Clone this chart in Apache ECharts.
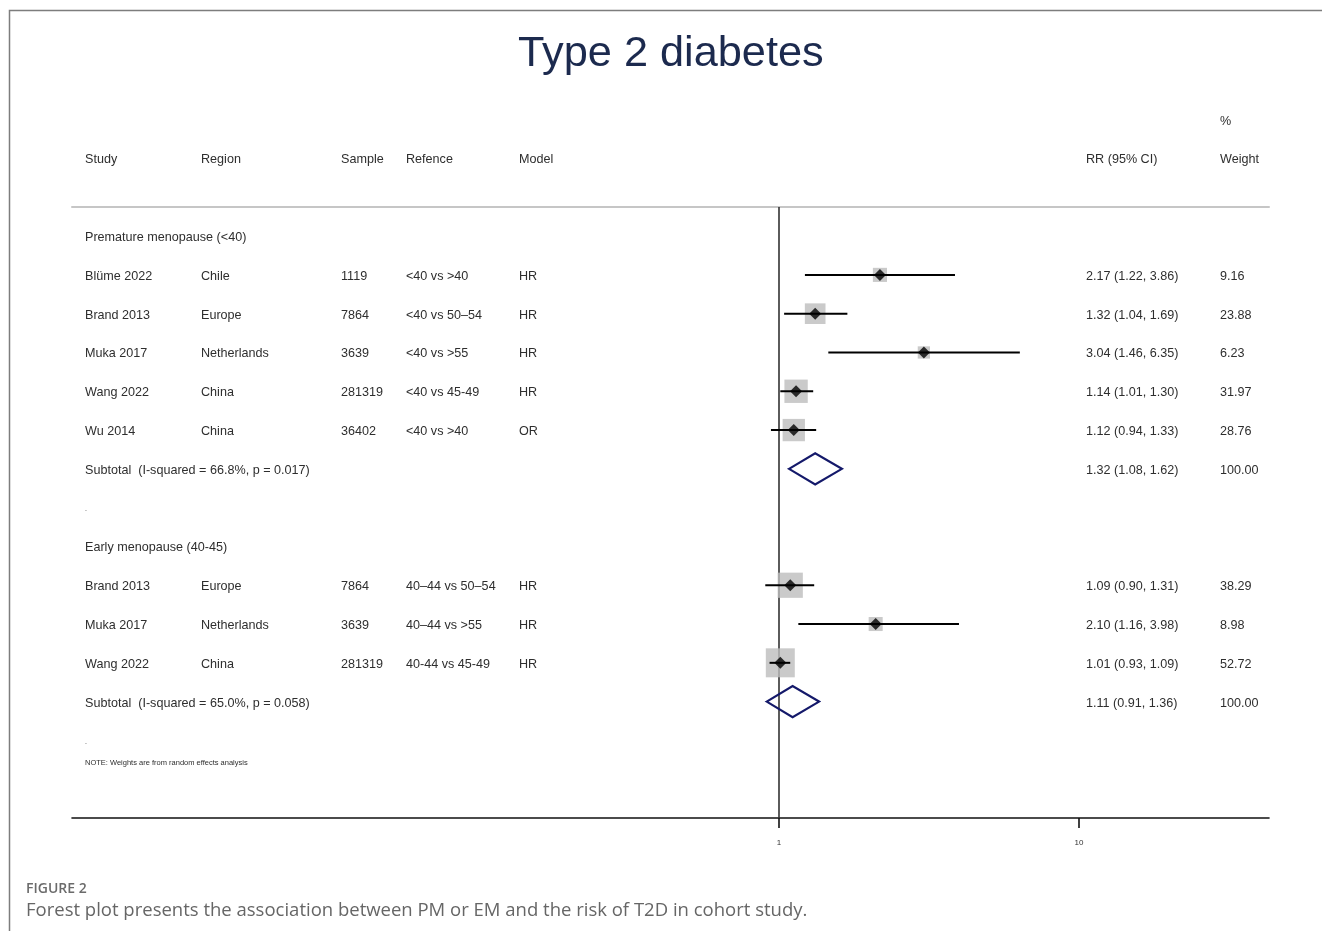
<!DOCTYPE html>
<html>
<head>
<meta charset="utf-8">
<title>Type 2 diabetes</title>
<script src="https://cdn.jsdelivr.net/npm/echarts@6/dist/echarts.min.js"></script>
<style>
  html, body { margin: 0; padding: 0; background: #ffffff; }
  #chart { width: 1322px; height: 931px; }
</style>
</head>
<body>
<div id="chart"></div>
<script>
// ---- Study-level data ----
const studies    = ['Blüme 2022', 'Brand 2013', 'Muka 2017', 'Wang 2022', 'Wu 2014', 'Brand 2013', 'Muka 2017', 'Wang 2022'];
const regions    = ['Chile', 'Europe', 'Netherlands', 'China', 'China', 'Europe', 'Netherlands', 'China'];
const samples    = ['1119', '7864', '3639', '281319', '36402', '7864', '3639', '281319'];
const references = ['<40 vs >40', '<40 vs 50–54', '<40 vs >55', '<40 vs 45-49', '<40 vs >40', '40–44 vs 50–54', '40–44 vs >55', '40-44 vs 45-49'];
const models     = ['HR', 'HR', 'HR', 'HR', 'OR', 'HR', 'HR', 'HR'];
const rr         = [2.17, 1.32, 3.04, 1.14, 1.12, 1.09, 2.10, 1.01];
const ciLow      = [1.22, 1.04, 1.46, 1.01, 0.94, 0.90, 1.16, 0.93];
const ciHigh     = [3.86, 1.69, 6.35, 1.30, 1.33, 1.31, 3.98, 1.09];
const weights    = [9.16, 23.88, 6.23, 31.97, 28.76, 38.29, 8.98, 52.72];
const studyRows  = [1, 2, 3, 4, 5, 9, 10, 11];

// ---- Subgroups and pooled estimates ----
const groupNames     = ['Premature menopause (<40)', 'Early menopause (40-45)'];
const groupRows      = [0, 8];
const subtotalLabels = ['Subtotal  (I-squared = 66.8%, p = 0.017)', 'Subtotal  (I-squared = 65.0%, p = 0.058)'];
const subtotalRR     = [1.32, 1.11];
const subtotalLow    = [1.08, 0.91];
const subtotalHigh   = [1.62, 1.36];
const subtotalWeight = [100.00, 100.00];
const subtotalRows   = [6, 12];
const spacerRows     = [7, 13];
const noteText       = 'NOTE: Weights are from random effects analysis';
const noteRow        = 13.55;

// ---- Header and axis ----
const headers     = ['Study', 'Region', 'Sample', 'Refence', 'Model', 'RR (95% CI)', 'Weight'];
const headerRow   = -2;
const percentRow  = -3;
const axisTicks   = [1, 10];

// ---- Layout ----
const FONT = '"Liberation Sans", Arial, Helvetica, sans-serif';
const TEXT_COLOR = '#2e2e2e';
const BODY_SIZE = 12.6;
const GRID = { left: 72, right: 53, top: 207, bottom: 113 };
const X_MIN = -2.3567, X_MAX = 1.6333;          // log10(RR) extent of the plot
const COL = { study: 85, region: 201, sample: 341, ref: 406, model: 519, rr: 1086, weight: 1220 };

const fmt2 = v => v.toFixed(2);
const ciText = (e, l, h) => `${fmt2(e)} (${fmt2(l)}, ${fmt2(h)})`;

// Text cells of the table: [x, row, text, fontSize]
const cells = [];
const headerCols = [COL.study, COL.region, COL.sample, COL.ref, COL.model, COL.rr, COL.weight];
headers.forEach((h, i) => cells.push([headerCols[i], headerRow, h, BODY_SIZE]));
cells.push([COL.weight, percentRow, '%', BODY_SIZE]);
groupNames.forEach((g, i) => cells.push([COL.study, groupRows[i], g, BODY_SIZE]));
studies.forEach((s, i) => {
  const r = studyRows[i];
  cells.push([COL.study, r, s, BODY_SIZE]);
  cells.push([COL.region, r, regions[i], BODY_SIZE]);
  cells.push([COL.sample, r, samples[i], BODY_SIZE]);
  cells.push([COL.ref, r, references[i], BODY_SIZE]);
  cells.push([COL.model, r, models[i], BODY_SIZE]);
  cells.push([COL.rr, r, ciText(rr[i], ciLow[i], ciHigh[i]), BODY_SIZE]);
  cells.push([COL.weight, r, fmt2(weights[i]), BODY_SIZE]);
});
subtotalLabels.forEach((s, i) => {
  const r = subtotalRows[i];
  cells.push([COL.study, r, s, BODY_SIZE]);
  cells.push([COL.rr, r, ciText(subtotalRR[i], subtotalLow[i], subtotalHigh[i]), BODY_SIZE]);
  cells.push([COL.weight, r, fmt2(subtotalWeight[i]), BODY_SIZE]);
});
spacerRows.forEach(r => cells.push([COL.study, r, '.', 7]));
cells.push([COL.study, noteRow, noteText, 7.5]);

const chart = echarts.init(document.getElementById('chart'), null, { renderer: 'canvas' });

const option = {
  backgroundColor: '#ffffff',
  animation: false,
  title: {
    text: 'Type 2 diabetes',
    left: 513,
    top: 28,
    textStyle: { fontFamily: FONT, fontSize: 43.3, fontWeight: 'normal', color: '#1c2a4e' }
  },
  grid: GRID,
  xAxis: [
    {
      // log10(RR) scale; labels show RR
      type: 'value', min: X_MIN, max: X_MAX, position: 'bottom',
      axisLine: { show: true, onZero: false, lineStyle: { color: '#111', width: 1.6 } },
      axisTick: { show: true, customValues: axisTicks.map(Math.log10), length: 10, lineStyle: { color: '#111', width: 1.6 } },
      axisLabel: {
        show: true, customValues: axisTicks.map(Math.log10), margin: 21,
        formatter: v => String(Math.round(Math.pow(10, v))),
        fontFamily: FONT, fontSize: 8, color: '#333'
      },
      splitLine: { show: false }
    },
    {
      type: 'value', min: X_MIN, max: X_MAX, position: 'top',
      axisLine: { show: true, onZero: false, lineStyle: { color: '#c6c6c6', width: 2 } },
      axisTick: { show: false }, axisLabel: { show: false }, splitLine: { show: false }
    },
    {
      // page-x axis for table columns
      type: 'value', min: GRID.left, max: 1322 - GRID.right, show: false
    }
  ],
  yAxis: {
    type: 'value', min: -0.75, max: 15, inverse: true, show: false
  },
  series: [
    {
      name: 'table',
      type: 'custom',
      xAxisIndex: 2,
      silent: true,
      z: 5,
      data: cells.map(c => [c[0], c[1]]),
      renderItem: (params, api) => {
        const c = cells[params.dataIndex];
        const p = api.coord([c[0], c[1]]);
        return {
          type: 'text',
          x: p[0], y: p[1] + 1.5,
          style: {
            text: c[2], fill: TEXT_COLOR,
            font: `${c[3]}px ${FONT}`,
            align: 'left', verticalAlign: 'middle'
          }
        };
      }
    },
    {
      name: 'weight box',
      type: 'scatter',
      xAxisIndex: 0,
      symbol: 'rect',
      z: 2,
      silent: true,
      symbolSize: v => 3.5 + 3.51 * Math.sqrt(v[2]),
      itemStyle: { color: '#bdbdbd' },
      data: rr.map((v, i) => [Math.log10(v), studyRows[i], weights[i]])
    },
    {
      name: 'confidence interval',
      type: 'custom',
      xAxisIndex: 0,
      z: 3,
      silent: true,
      data: rr.map((v, i) => [Math.log10(ciLow[i]), Math.log10(ciHigh[i]), studyRows[i]]),
      renderItem: (params, api) => {
        const a = api.coord([api.value(0), api.value(2)]);
        const b = api.coord([api.value(1), api.value(2)]);
        return {
          type: 'line',
          shape: { x1: a[0], y1: a[1], x2: b[0], y2: b[1] },
          style: { stroke: '#000', lineWidth: 2 }
        };
      },
      markLine: {
        silent: true,
        symbol: 'none',
        z: 1,
        label: { show: false },
        lineStyle: { color: '#333', width: 1.6, type: 'solid' },
        data: [{ xAxis: Math.log10(1) }]
      }
    },
    {
      name: 'point estimate',
      type: 'scatter',
      xAxisIndex: 0,
      symbol: 'diamond',
      symbolSize: 12,
      z: 4,
      silent: true,
      itemStyle: { color: '#000' },
      data: rr.map((v, i) => [Math.log10(v), studyRows[i]])
    },
    {
      name: 'pooled estimate',
      type: 'custom',
      xAxisIndex: 0,
      z: 4,
      silent: true,
      data: subtotalRR.map((v, i) => [Math.log10(subtotalLow[i]), Math.log10(v), Math.log10(subtotalHigh[i]), subtotalRows[i]]),
      renderItem: (params, api) => {
        const row = api.value(3);
        const l = api.coord([api.value(0), row]);
        const m = api.coord([api.value(1), row]);
        const h = api.coord([api.value(2), row]);
        const half = 15.5;
        return {
          type: 'polygon',
          shape: { points: [[l[0], l[1]], [m[0], m[1] - half], [h[0], h[1]], [m[0], m[1] + half]] },
          style: { fill: 'none', stroke: '#14196a', lineWidth: 2.2 }
        };
      }
    }
  ],
  graphic: [
    {
      type: 'polyline', silent: true,
      shape: { points: [[9.5, 931], [9.5, 10.5], [1322, 10.5]] },
      style: { stroke: '#7d7d7d', lineWidth: 1.5, fill: null }
    },
    {
      type: 'text', left: 26, top: 882, silent: true,
      style: { text: 'FIGURE 2', font: '600 14px "Open Sans", sans-serif', fill: '#6b6b6b' }
    },
    {
      type: 'text', left: 26, top: 901, silent: true,
      style: { text: 'Forest plot presents the association between PM or EM and the risk of T2D in cohort study.', font: '18.5px "Open Sans", sans-serif', fill: '#666666' }
    }
  ]
};

chart.setOption(option);
</script>
</body>
</html>
